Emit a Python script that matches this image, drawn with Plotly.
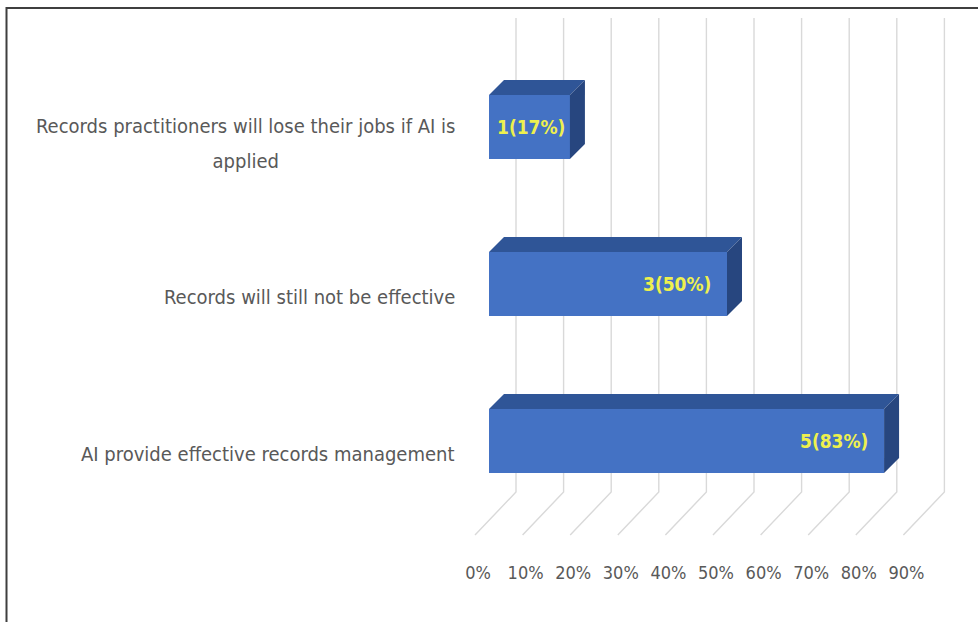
import plotly.graph_objects as go

# ---- data ----
statements = [
    "AI provide effective records management",
    "Records will still not be effective",
    "Records practitioners will lose their jobs if AI is<br>applied",
]
respondents = [5, 3, 1]
percent = [83, 50, 17]
tick_values = [0, 10, 20, 30, 40, 50, 60, 70, 80, 90]
tick_text = [f"{v}%" for v in tick_values]

# ---- geometry (pixels) ----
W, H = 978, 622
MARGIN_B = 62
PLOT_H = H - MARGIN_B
X0_PX = 489          # 0 % on the bar front plane
PX_PER_PCT = 4.76
SLOT_PX = 157        # distance between categories
BASE_PX = 441        # centre of the lowest category
BAR_PX = 64          # bar thickness
DEPTH_PX = 15        # bar depth (oblique offset)
WALL_DX, WALL_TOP, WALL_BOTTOM = 27, 18, 492
FLOOR_DX, FLOOR_Y = -14, 535
LABEL_X = 457
TICK_X0 = 478

FONT = "DejaVu Sans Condensed, Liberation Sans Narrow, sans-serif"
GREY_TEXT = "#595959"
FRONT = "#4472C4"
TOP = "#2F5597"
SIDE = "#27467F"
LABEL_SIZE = 20
LABEL_LINE_PX = 35   # baseline distance for wrapped category labels


def ux(px):
    return px / PX_PER_PCT


def uy(py):
    return (BASE_PX - py) / SLOT_PX


x_range = [ux(-X0_PX), ux(W - X0_PX)]
y_range = [uy(PLOT_H), uy(0)]
bar_w = BAR_PX / SLOT_PX
ddx, ddy = ux(DEPTH_PX), DEPTH_PX / SLOT_PX
ypos = list(range(len(statements)))

fig = go.Figure()

# front faces
fig.add_trace(go.Bar(
    x=percent, y=ypos, orientation="h", width=bar_w,
    marker=dict(color=FRONT, line=dict(width=0)),
    hoverinfo="skip", showlegend=False,
))

# top and side faces of each bar
for yi, v in zip(ypos, percent):
    yt = yi + bar_w / 2
    yb = yi - bar_w / 2
    fig.add_trace(go.Scatter(
        x=[0, v, v + ddx, ddx, 0], y=[yt, yt, yt + ddy, yt + ddy, yt],
        fill="toself", fillcolor=TOP, mode="lines", line=dict(width=0),
        hoverinfo="skip", showlegend=False,
    ))
    fig.add_trace(go.Scatter(
        x=[v, v, v + ddx, v + ddx, v], y=[yb, yt, yt + ddy, yb + ddy, yb],
        fill="toself", fillcolor=SIDE, mode="lines", line=dict(width=0),
        hoverinfo="skip", showlegend=False,
    ))

# carrier for the percent tick labels
fig.add_trace(go.Scatter(
    x=tick_values, y=[y_range[0]] * len(tick_values), xaxis="x2",
    mode="markers", marker=dict(opacity=0), hoverinfo="skip", showlegend=False,
))

# back-wall and floor grid lines
shapes = []
for v in tick_values:
    xb = v + ux(WALL_DX)
    xf = v + ux(FLOOR_DX)
    shapes.append(dict(
        type="path", xref="x", yref="y", layer="below",
        path=f"M {xb},{uy(WALL_TOP)} L {xb},{uy(WALL_BOTTOM)} L {xf},{uy(FLOOR_Y)}",
        line=dict(color="#d9d9d9", width=1.4),
    ))

# outer frame
shapes.append(dict(
    type="rect", xref="paper", yref="paper",
    x0=6.5 / W, x1=1.02, y0=-0.3, y1=1 - 8 / PLOT_H,
    line=dict(color="#3f3f3f", width=2), layer="above",
))

annotations = []
for yi, name in zip(ypos, statements):
    wrapped = "<br>" in name
    # a larger outer size widens the line pitch of wrapped labels,
    # while the inner span keeps the glyphs at the label size
    outer = LABEL_LINE_PX / 1.3 if wrapped else LABEL_SIZE
    text = name if not wrapped else "<br>".join(
        f"<span style='font-size:{LABEL_SIZE}px'>{part}</span>" for part in name.split("<br>")
    )
    annotations.append(dict(
        x=ux(LABEL_X - X0_PX), y=yi, xref="x", yref="y",
        xanchor="right", yanchor="middle", align="center",
        yshift=-16 if wrapped else -13,
        text=text, showarrow=False,
        font=dict(family=FONT, size=outer, color=GREY_TEXT),
    ))
for yi, n, v in zip(ypos, respondents, percent):
    annotations.append(dict(
        x=v, y=yi, xref="x", yref="y",
        xanchor="right", yanchor="middle",
        xshift=-14 if v * PX_PER_PCT > 150 else -3,
        text=f"<b>{n}({v}%)</b>", showarrow=False,
        font=dict(family=FONT, size=19, color="#EEF04E"),
    ))

fig.update_layout(
    width=W, height=H,
    margin=dict(l=0, r=0, t=0, b=MARGIN_B, pad=0),
    paper_bgcolor="white", plot_bgcolor="white",
    bargap=0,
    xaxis=dict(range=x_range, visible=False, fixedrange=True),
    xaxis2=dict(
        range=[ux(-TICK_X0), ux(W - TICK_X0)], overlaying="x", anchor="y",
        side="bottom", tickvals=tick_values, ticktext=tick_text,
        showgrid=False, showline=False, zeroline=False, ticks="",
        tickfont=dict(family=FONT, size=18, color=GREY_TEXT), fixedrange=True,
    ),
    yaxis=dict(range=y_range, visible=False, fixedrange=True),
    shapes=shapes,
    annotations=annotations,
)

fig.write_html("out.html", config={"displayModeBar": False})
